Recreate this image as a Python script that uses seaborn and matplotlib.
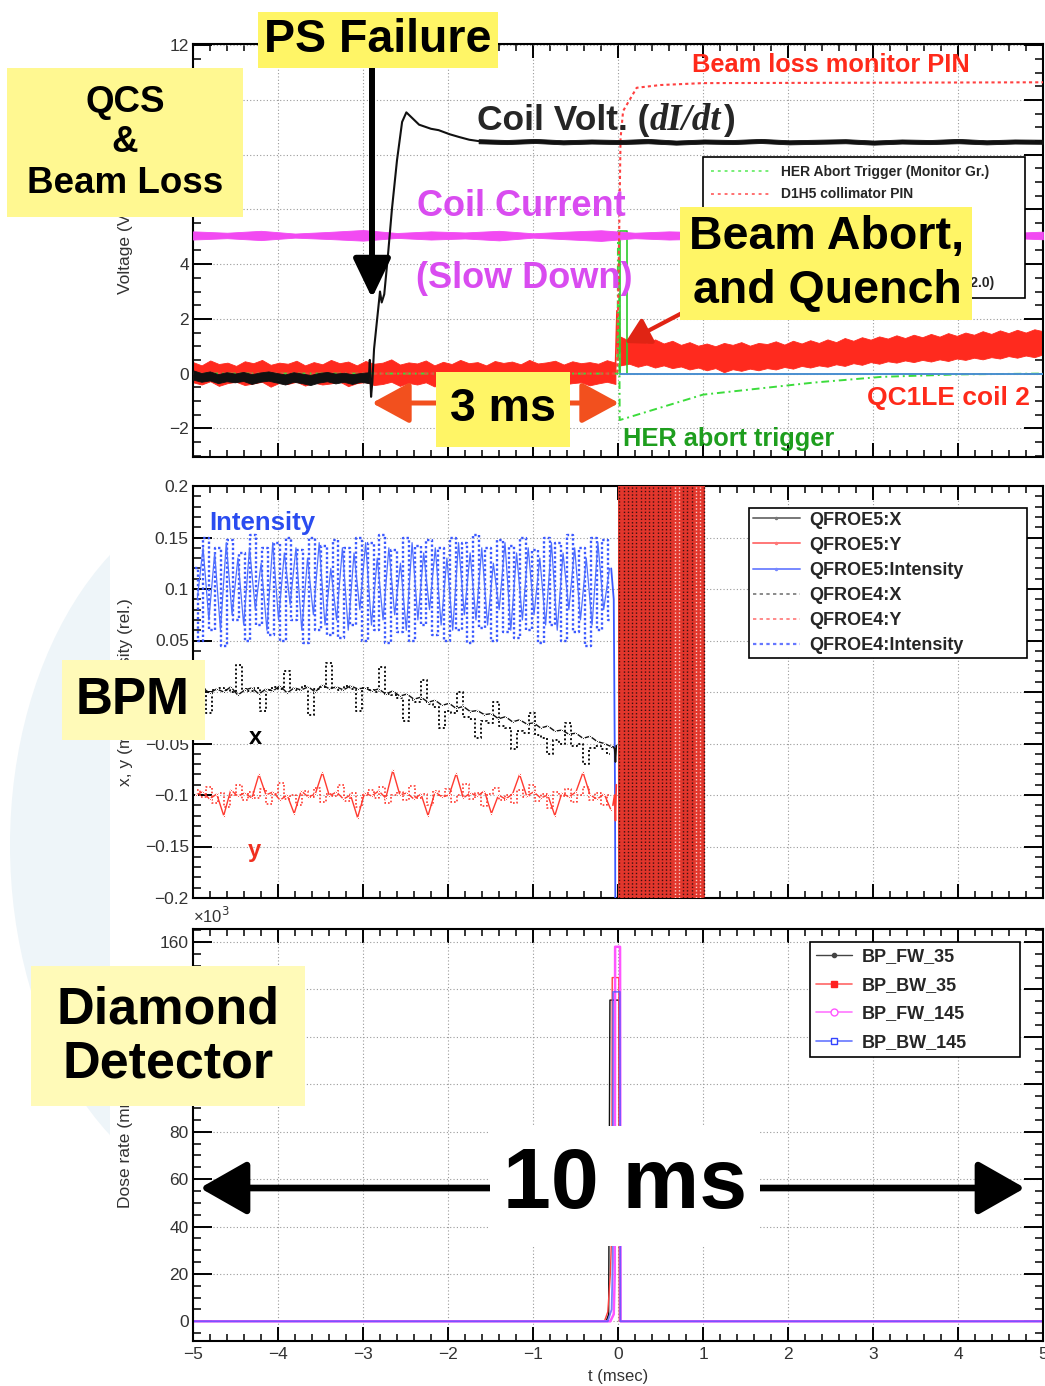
import numpy as np
import matplotlib
matplotlib.use("Agg")
import matplotlib.pyplot as plt
import seaborn as sns
from matplotlib.patches import Rectangle, FancyArrowPatch, Ellipse, ArrowStyle
from matplotlib.lines import Line2D
from matplotlib.ticker import MultipleLocator, FuncFormatter

# ---------------------------------------------------------------- data (t in msec)
# QCS coil voltage (dI/dt), quiet phase: noise envelope
BLK_PRE_HI = [0.12, 0.02, 0.08, -0.02, 0.05, 0.0, 0.06, -0.02, 0.04, 0.08, 0.02,
              -0.03, 0.05, 0.0, -0.05, 0.02, 0.06, 0.0, 0.03, -0.02, 0.02, 0.05]
BLK_PRE_LO = [-0.22, -0.3, -0.25, -0.35, -0.28, -0.32, -0.27, -0.38, -0.3, -0.26, -0.33,
              -0.4, -0.3, -0.35, -0.42, -0.33, -0.28, -0.36, -0.3, -0.38, -0.3, -0.35]
# coil voltage transient after the power-supply failure
BLK_RISE_T = [-2.93, -2.92, -2.905, -2.89, -2.87, -2.84, -2.80, -2.78, -2.75, -2.71, -2.66,
              -2.60, -2.54, -2.49, -2.44, -2.34, -2.2, -2.11, -1.98, -1.87, -1.75, -1.64]
BLK_RISE_V = [-0.1, 0.5, -0.85, -0.3, 0.9, 1.8, 3.0, 2.6, 2.9, 4.2, 6.0,
              7.8, 9.2, 9.55, 9.4, 9.1, 8.95, 8.9, 8.75, 8.65, 8.55, 8.5]
# coil voltage plateau
BLK_POST_HI = [8.57, 8.54, 8.58, 8.53, 8.56, 8.54, 8.58, 8.52, 8.56, 8.54, 8.58,
               8.53, 8.55, 8.57, 8.52, 8.56, 8.54, 8.58, 8.53, 8.56, 8.55]
BLK_POST_LO = [8.42, 8.39, 8.43, 8.38, 8.41, 8.39, 8.42, 8.37, 8.41, 8.39, 8.43,
               8.38, 8.4, 8.42, 8.37, 8.41, 8.39, 8.42, 8.38, 8.41, 8.4]
# coil current monitor
MAG_HI = [5.2, 5.15, 5.22, 5.12, 5.18, 5.25, 5.14, 5.2, 5.16, 5.22, 5.13, 5.19, 5.24,
          5.15, 5.2, 5.17, 5.23, 5.12, 5.18, 5.21, 5.15, 5.2, 5.16, 5.22, 5.14, 5.19]
MAG_LO = [4.9, 4.95, 4.88, 4.97, 4.92, 4.86, 4.96, 4.9, 4.94, 4.87, 4.97, 4.91, 4.85,
          4.95, 4.9, 4.93, 4.87, 4.97, 4.92, 4.89, 4.95, 4.9, 4.94, 4.88, 4.96, 4.91]
# QC1LE coil 2 voltage before / after the abort
RED_PRE_HI = [0.42, 0.3, 0.48, 0.35, 0.4, 0.28, 0.45, 0.38, 0.5, 0.32,
              0.4, 0.36, 0.47, 0.3, 0.42, 0.34, 0.5, 0.38, 0.44, 0.3,
              0.46, 0.36, 0.4, 0.52, 0.33, 0.41, 0.37, 0.48, 0.3, 0.43,
              0.35, 0.5, 0.38, 0.42, 0.3, 0.46, 0.39, 0.44, 0.34, 0.5,
              0.37, 0.41, 0.47, 0.33, 0.45, 0.38, 0.42, 0.36, 0.49, 0.4]
RED_PRE_LO = [-0.32, -0.4, -0.28, -0.45, -0.35, -0.3, -0.42, -0.36, -0.3, -0.48,
              -0.34, -0.38, -0.3, -0.44, -0.33, -0.4, -0.36, -0.29, -0.46, -0.35,
              -0.31, -0.42, -0.38, -0.3, -0.45, -0.34, -0.4, -0.32, -0.47, -0.36,
              -0.3, -0.43, -0.35, -0.39, -0.3, -0.45, -0.33, -0.38, -0.42, -0.31,
              -0.37, -0.44, -0.3, -0.4, -0.35, -0.32, -0.43, -0.36, -0.3, -0.38]
RED_POST_HI = [1.35, 1.2, 1.3, 1.12, 1.25, 1.1, 1.2, 1.05, 1.15, 1.02,
               1.1, 1.0, 1.12, 1.05, 1.15, 1.02, 1.12, 1.08, 1.18, 1.06,
               1.2, 1.1, 1.22, 1.12, 1.25, 1.15, 1.3, 1.2, 1.33, 1.24,
               1.36, 1.28, 1.4, 1.3, 1.42, 1.33, 1.45, 1.35, 1.48, 1.38,
               1.5, 1.42, 1.55, 1.45, 1.58, 1.48, 1.6, 1.5, 1.62, 1.55]
RED_POST_LO = [0.3, 0.36, 0.25, 0.33, 0.22, 0.3, 0.2, 0.26, 0.15, 0.22,
               0.12, 0.2, 0.05, 0.16, 0.1, 0.18, 0.12, 0.2, 0.15, 0.24,
               0.18, 0.28, 0.22, 0.3, 0.25, 0.34, 0.28, 0.38, 0.32, 0.42,
               0.36, 0.45, 0.4, 0.48, 0.42, 0.5, 0.44, 0.52, 0.46, 0.55,
               0.5, 0.58, 0.52, 0.6, 0.55, 0.64, 0.58, 0.66, 0.6, 0.7]
RED_SPIKE_T = [-0.03, -0.012, 0.0, 0.01, 0.03]
RED_SPIKE_V = [0.2, 2.3, 0.5, 1.9, 0.8]
# HER abort trigger (monitor group)
TRIG_T = [-5.0, -0.005, 0.0, 0.01, 0.02, 1.0, 2.3, 3.1, 4.0, 5.0]
TRIG_V = [0.0, 0.0, 5.2, 5.2, -1.7, -0.77, -0.33, -0.12, -0.03, 0.0]
ABORT_FLAG_T = [0.02, 5.0]
ABORT_FLAG_V = [0.0, 0.0]
# D1H5 collimator PIN (beam loss monitor)
PIN_T = [-5.0, -0.01, 0.03, 0.06, 0.22, 0.5, 1.0, 5.0]
PIN_V = [0.0, 0.0, 8.6, 9.6, 10.45, 10.55, 10.62, 10.65]

# BPM: intensity (rel.)
INT5 = [0.09, 0.14, 0.07, 0.135, 0.06, 0.145, 0.075, 0.13, 0.065, 0.14, 0.08, 0.125,
        0.06, 0.145, 0.07, 0.135, 0.085, 0.14, 0.06, 0.13, 0.075, 0.145, 0.065, 0.12,
        0.07, 0.14, 0.06, 0.135, 0.08, 0.145, 0.065, 0.13, 0.07, 0.14, 0.075, 0.125,
        0.06, 0.145, 0.07, 0.135, 0.08, 0.14, 0.065, 0.13, 0.06, 0.145, 0.075, 0.135,
        0.07, 0.14, 0.065, 0.125, 0.08, 0.145, 0.06, 0.135, 0.07, 0.14, 0.075, 0.13,
        0.065, 0.145, 0.06, 0.135, 0.08, 0.14, 0.07, 0.13, 0.065, 0.145, 0.08, 0.12]
INT4 = [0.12, 0.05, 0.15, 0.06, 0.14, 0.045, 0.148, 0.07, 0.135, 0.05, 0.152, 0.065,
        0.14, 0.055, 0.145, 0.05, 0.15, 0.07, 0.138, 0.048, 0.15, 0.06, 0.142, 0.055,
        0.148, 0.052, 0.14, 0.065, 0.15, 0.05, 0.145, 0.06, 0.152, 0.048, 0.138, 0.058,
        0.15, 0.05, 0.142, 0.065, 0.148, 0.055, 0.14, 0.05, 0.15, 0.06, 0.145, 0.048,
        0.152, 0.062, 0.14, 0.05, 0.148, 0.058, 0.142, 0.052, 0.15, 0.06, 0.138, 0.048,
        0.15, 0.065, 0.145, 0.05, 0.152, 0.058, 0.14, 0.045, 0.15, 0.06, 0.148, 0.07]
INT_DROP_T = [-0.08, -0.05, -0.035, -0.03]
INT_DROP_V = [0.12, 0.09, -0.1, -0.25]
# BPM: horizontal position x (mm)
X5 = [0.002, 0.004, -0.001, 0.003, 0.0, 0.005, -0.003, 0.002, 0.004, -0.002, 0.003, 0.001,
      0.006, -0.001, 0.004, 0.002, 0.005, 0.0, 0.007, 0.003, 0.005, 0.002, 0.006, 0.003,
      0.004, 0.001, 0.003, -0.002, 0.001, -0.004, -0.002, -0.007, -0.005, -0.01, -0.008,
      -0.013, -0.011, -0.016, -0.014, -0.019, -0.018, -0.022, -0.021, -0.026, -0.024,
      -0.029, -0.027, -0.031, -0.03, -0.035, -0.033, -0.038, -0.037, -0.041, -0.04,
      -0.045, -0.043, -0.048, -0.05, -0.053]
X4 = [0.001, 0.003, -0.02, 0.002, 0.004, 0.002, 0.0, 0.026, 0.003, 0.001,
      0.004, -0.018, 0.002, 0.005, 0.003, 0.02, 0.004, 0.002, 0.006, -0.022,
      0.003, 0.005, 0.028, 0.004, 0.002, 0.006, 0.003, -0.018, 0.004, 0.002,
      0.0, 0.024, -0.002, -0.003, -0.006, -0.028, -0.008, -0.01, 0.012, -0.012,
      -0.015, -0.035, -0.018, -0.02, 0.0, -0.024, -0.026, -0.045, -0.028, -0.03,
      -0.01, -0.033, -0.035, -0.055, -0.038, -0.04, -0.02, -0.042, -0.045, -0.06,
      -0.047, -0.05, -0.03, -0.052, -0.05, -0.07, -0.054, -0.052, -0.055, -0.06]
X_DROP_T = [-0.06, -0.04, -0.03, -0.02]
X_DROP_V = [-0.053, -0.055, -0.068, -0.052]
# BPM: vertical position y (mm)
Y5 = [-0.1, -0.097, -0.104, -0.099, -0.12, -0.095, -0.101, -0.098, -0.103, -0.08,
      -0.1, -0.097, -0.105, -0.1, -0.118, -0.096, -0.102, -0.099, -0.078, -0.101,
      -0.097, -0.104, -0.1, -0.122, -0.098, -0.101, -0.096, -0.103, -0.076, -0.1,
      -0.098, -0.104, -0.099, -0.12, -0.097, -0.102, -0.1, -0.079, -0.103, -0.098,
      -0.101, -0.096, -0.118, -0.1, -0.104, -0.099, -0.08, -0.101, -0.097, -0.103,
      -0.1, -0.12, -0.098, -0.102, -0.097, -0.078, -0.1, -0.104, -0.099, -0.115]
Y4 = [-0.095, -0.102, -0.092, -0.108, -0.098, -0.112, -0.1, -0.09, -0.105, -0.097,
      -0.103, -0.094, -0.109, -0.099, -0.088, -0.104, -0.1, -0.11, -0.096, -0.102,
      -0.093, -0.107, -0.099, -0.101, -0.09, -0.106, -0.098, -0.112, -0.1, -0.095,
      -0.103, -0.092, -0.108, -0.1, -0.097, -0.105, -0.091, -0.103, -0.099, -0.11,
      -0.096, -0.101, -0.094, -0.107, -0.1, -0.089, -0.104, -0.098, -0.111, -0.099,
      -0.093, -0.105, -0.1, -0.108, -0.095, -0.102, -0.09, -0.106, -0.099, -0.113,
      -0.097, -0.101, -0.094, -0.107, -0.1, -0.092, -0.105, -0.098, -0.11, -0.1]
Y_DROP_T = [-0.06, -0.04, -0.03, -0.02]
Y_DROP_V = [-0.11, -0.1, -0.125, -0.09]
# BPM readings saturate after the abort
ABORT_WINDOW_T = [0.0, 1.02]

# Diamond detectors: dose rate (x10^3 mrad/s)
FW35_T = [-5.0, -0.14, -0.11, -0.095, 0.0, 0.012, 0.02, 5.0]
FW35_V = [0, 0, 3, 135.5, 135.5, 135.5, 0, 0]
BW35_T = [-5.0, -0.16, -0.12, -0.09, -0.072, -0.068, 0.01, 0.016, 5.0]
BW35_V = [0, 0, 4, 20, 40, 145, 145, 0, 0]
FW145_T = [-5.0, -0.09, -0.05, -0.038, -0.034, 0.024, 0.03, 5.0]
FW145_V = [0, 0, 3, 20, 158, 158, 0, 0]
BW145_T = [-5.0, -0.12, -0.075, -0.062, -0.058, 0.022, 0.028, 5.0]
BW145_V = [0, 0, 5, 25, 139, 139, 0, 0]

# ---------------------------------------------------------------- figure
sns.set_theme(style="white")
plt.rcParams["font.family"] = ["Liberation Sans", "DejaVu Sans"]
plt.rcParams["axes.unicode_minus"] = True

W, H = 1045, 1386
fig = plt.figure(figsize=(W / 100, H / 100), dpi=100)
fig.patch.set_facecolor("white")


def rect(top, bottom, left=193, right=1043):
    return [left / W, 1 - bottom / H, (right - left) / W, (bottom - top) / H]


def fx(x):
    return x / W


def fy(y):
    return 1 - y / H


# faint slide backdrop on the left edge
clip = Rectangle((0, 0), 110 / W, 1, transform=fig.transFigure)
backdrop = Ellipse((fx(255), fy(845)), 490 / W, 720 / H, transform=fig.transFigure,
                   facecolor="#eef5f9", edgecolor="none", zorder=-2)
backdrop.set_clip_path(clip)
fig.add_artist(backdrop)

ax1 = fig.add_axes(rect(44, 457))
ax2 = fig.add_axes(rect(486, 898))
ax3 = fig.add_axes(rect(929, 1341))

fmt = FuncFormatter(lambda v, p: ("%g" % round(v, 6)).replace("-", "\u2212"))


def style(ax, ymaj, ymin, ylim):
    ax.set_xlim(-5, 5)
    ax.set_ylim(*ylim)
    ax.set_facecolor("white")
    ax.xaxis.set_major_locator(MultipleLocator(1))
    ax.xaxis.set_minor_locator(MultipleLocator(0.2))
    ax.yaxis.set_major_locator(MultipleLocator(ymaj))
    ax.yaxis.set_minor_locator(MultipleLocator(ymin))
    ax.xaxis.set_major_formatter(fmt)
    ax.yaxis.set_major_formatter(fmt)
    ax.tick_params(which="both", direction="in", top=True, right=True,
                   bottom=True, left=True, color="black", labelcolor="#333333",
                   labelsize=12.5)
    ax.tick_params(axis="y", which="major", length=14, width=1.4, pad=3)
    ax.tick_params(axis="y", which="minor", length=6, width=1.1)
    ax.tick_params(axis="x", which="major", length=10, width=1.4, pad=4)
    ax.tick_params(axis="x", which="minor", length=5, width=1.1)
    for s in ax.spines.values():
        s.set_color("black")
        s.set_linewidth(1.5)
        s.set_visible(True)
    ax.grid(True, which="major", color="#9a9a9a", linestyle=(0, (1, 2)), linewidth=0.8)
    ax.set_axisbelow(True)


def band(ax, t, lo, hi, color, z, lw=0.6):
    # noisy trace drawn as its envelope
    ax.fill_between(np.asarray(t, float), lo, hi, facecolor=color, edgecolor=color,
                    lw=lw, zorder=z)


def framed_legend(ax, handles, labels, x0, y0, x1, y1, top, bottom, size, **kw):
    # legend box spanning the given pixel rectangle (left/right edges fixed)
    ax_h = bottom - top
    anchor = ((x0 - 193) / 850, 1 - (y1 - top) / ax_h, (x1 - x0) / 850, (y1 - y0) / ax_h)
    leg = ax.legend(handles, labels, loc="upper left", bbox_to_anchor=anchor, mode="expand",
                    borderaxespad=0, frameon=True, fancybox=False, framealpha=1,
                    prop={"weight": "bold", "size": size}, **kw)
    leg.get_frame().set_edgecolor("black")
    leg.get_frame().set_linewidth(1.2)
    leg.set_zorder(6)
    return leg


# ---------------- top panel: QCS and beam loss
style(ax1, 2, 0.5, (-3.05, 12.05))
ax1.tick_params(labelbottom=False)
RED = "#ff2a1e"
band(ax1, np.linspace(-5, -0.03, len(RED_PRE_HI)), RED_PRE_LO, RED_PRE_HI, RED, 2)
band(ax1, np.linspace(0.03, 5, len(RED_POST_HI)), RED_POST_LO, RED_POST_HI, RED, 2)
ax1.plot(RED_SPIKE_T, RED_SPIKE_V, color=RED, lw=1.2, zorder=2)
sns.lineplot(x=TRIG_T, y=TRIG_V, ax=ax1, color="#3cdc3c", lw=1.4,
             linestyle=(0, (4, 2, 1, 2)), sort=False, estimator=None, zorder=3)
ax1.plot([0.02, 0.02, 0.1, 0.1], [0, 5.2, 5.2, 0], color="#2ccc2c", lw=1.2, zorder=3)
ax1.plot(ABORT_FLAG_T, ABORT_FLAG_V, color="#4a8fd0", lw=1.4, zorder=3)
band(ax1, np.linspace(-5, 5, len(MAG_HI)), MAG_LO, MAG_HI, "#f24af2", 3)
band(ax1, np.linspace(-5, -2.93, len(BLK_PRE_HI)), BLK_PRE_LO, BLK_PRE_HI, "#111111", 4)
sns.lineplot(x=BLK_RISE_T, y=BLK_RISE_V, ax=ax1, color="#111111", lw=1.5,
             sort=False, estimator=None, zorder=4)
band(ax1, np.linspace(-1.64, 5, len(BLK_POST_HI)), BLK_POST_LO, BLK_POST_HI, "#111111", 4)
ax1.plot(PIN_T, PIN_V, color="#ff4040", lw=1.5, linestyle=(0, (1.5, 1.5)), zorder=3)
ax1.set_ylabel("Voltage (V)", fontsize=12.5, color="#333333")
ax1.yaxis.set_label_coords(-0.0706, 0.5)

top_handles = [
    Line2D([], [], color="#77ee77", lw=1.4, linestyle=(0, (1.5, 2))),
    Line2D([], [], color="#ff7070", lw=1.4, linestyle=(0, (1.5, 2))),
    Line2D([], [], color="#ff7070", lw=1.4),
    Line2D([], [], color="#f070f0", lw=1.4),
    Line2D([], [], color="#555555", lw=1.4),
    Line2D([], [], color="#555555", lw=1.4, linestyle=(0, (1.5, 2))),
]
top_labels = ["HER Abort Trigger (Monitor Gr.)", "D1H5 collimator PIN",
              "QC1LE coil 2 Voltage", "QCS Coil Current",
              "QCS Coil Voltage", "QC1LE Coil 2 Voltage (Scale 2.0)"]
framed_legend(ax1, top_handles, top_labels, 703, 157, 1025, 308, 44, 457, 10,
              labelspacing=0.58, handlelength=4.2, handletextpad=0.85, borderpad=0.6)

# ---------------- middle panel: BPM
style(ax2, 0.05, 0.01, (-0.2, 0.2))
ax2.tick_params(labelbottom=False)
BLUE = "#3a58ff"
t_i4 = np.linspace(-4.98, -0.08, len(INT4))
t_i5 = np.linspace(-4.95, -0.1, len(INT5))
ax2.plot(t_i4, INT4, color=BLUE, lw=1.7, linestyle=(0, (1, 1)),
         drawstyle="steps-mid", zorder=3)
sns.lineplot(x=t_i5, y=INT5, ax=ax2, color="#5070ff", lw=0.9,
             sort=False, estimator=None, zorder=3)
ax2.plot(INT_DROP_T, INT_DROP_V, color=BLUE, lw=1.3, zorder=3)
t_x5 = np.linspace(-4.97, -0.08, len(X5))
t_x4 = np.linspace(-4.95, -0.1, len(X4))
ax2.plot(t_x4, X4, color="#111111", lw=1.4, linestyle=(0, (1, 1.2)),
         drawstyle="steps-mid", zorder=3)
sns.lineplot(x=t_x5, y=X5, ax=ax2, color="#111111", lw=1.0, marker=".", ms=3,
             sort=False, estimator=None, zorder=3)
ax2.plot(X_DROP_T, X_DROP_V, color="#111111", lw=1.2, zorder=3)
t_y5 = np.linspace(-4.97, -0.08, len(Y5))
t_y4 = np.linspace(-4.95, -0.1, len(Y4))
ax2.plot(t_y4, Y4, color="#ff3a30", lw=1.2, linestyle=(0, (1, 1.2)),
         drawstyle="steps-mid", zorder=3)
sns.lineplot(x=t_y5, y=Y5, ax=ax2, color="#ff3a30", lw=1.0, marker=".", ms=3,
             sort=False, estimator=None, zorder=3)
ax2.plot(Y_DROP_T, Y_DROP_V, color="#ff3a30", lw=1.2, zorder=3)
ax2.fill_between(ABORT_WINDOW_T, -0.2, 0.2, color="#e2362c", lw=0, zorder=4)
for tv in np.arange(0.015, ABORT_WINDOW_T[1], 0.05):
    col = "#fbd0cc" if 0.62 < tv < 0.72 or 0.88 < tv < 0.98 else "#3a1010"
    ax2.vlines(tv, -0.2, 0.2, colors=col, lw=1.0, linestyles=(0, (1, 1.5)), zorder=4)
ax2.set_ylabel("x, y (mm), Intensity (rel.)", fontsize=12.5, color="#333333")
ax2.yaxis.set_label_coords(-0.0706, 0.5)

mid_handles = [
    Line2D([], [], color="#777777", lw=1.4, marker=".", ms=3),
    Line2D([], [], color="#ff7777", lw=1.4, marker=".", ms=3),
    Line2D([], [], color="#7788ff", lw=1.4, marker=".", ms=3),
    Line2D([], [], color="#777777", lw=1.2, linestyle=(0, (2, 2))),
    Line2D([], [], color="#ff7777", lw=1.2, linestyle=(0, (2, 2))),
    Line2D([], [], color="#6677ff", lw=1.6, linestyle=(0, (1.5, 1.5))),
]
mid_labels = ["QFROE5:X", "QFROE5:Y", "QFROE5:Intensity",
              "QFROE4:X", "QFROE4:Y", "QFROE4:Intensity"]
framed_legend(ax2, mid_handles, mid_labels, 749, 508, 1027, 657, 486, 898, 13,
              labelspacing=0.45, handlelength=2.6, handletextpad=0.55, borderpad=0.2)

# ---------------- bottom panel: diamond detectors
style(ax3, 20, 5, (-8.3, 165.5))
sns.lineplot(x=FW35_T, y=FW35_V, ax=ax3, color="#111111", lw=1.0, sort=False, estimator=None)
sns.lineplot(x=BW35_T, y=BW35_V, ax=ax3, color="#ff4040", lw=1.0, sort=False, estimator=None)
sns.lineplot(x=FW145_T, y=FW145_V, ax=ax3, color="#ff55ff", lw=1.8, sort=False, estimator=None)
sns.lineplot(x=BW145_T, y=BW145_V, ax=ax3, color="#4a55ff", lw=1.3, alpha=0.75,
             sort=False, estimator=None)
ax3.set_ylabel("Dose rate (mrad/s)", fontsize=12.5, color="#333333")
ax3.yaxis.set_label_coords(-0.0706, 0.5)
ax3.set_xlabel("t (msec)", fontsize=12, color="#333333")
ax3.xaxis.set_label_coords(0.5, -0.068)
ax3.text(0.0, 1.008, "\u00d710$^{3}$", transform=ax3.transAxes, fontsize=12,
         color="#333333", ha="left", va="bottom")

bot_handles = [
    Line2D([], [], color="#444444", lw=1.0, marker="o", ms=3),
    Line2D([], [], color="#ff6666", lw=1.2, marker="s", ms=4, mfc="#ff2020", mec="#ff2020"),
    Line2D([], [], color="#ff77ff", lw=1.2, marker="o", ms=5, mfc="white", mec="#ff55ff"),
    Line2D([], [], color="#6677ff", lw=1.2, marker="s", ms=5, mfc="white", mec="#3344ff"),
]
bot_labels = ["BP_FW_35", "BP_BW_35", "BP_FW_145", "BP_BW_145"]
framed_legend(ax3, bot_handles, bot_labels, 810, 942, 1020, 1056, 929, 1341, 13,
              labelspacing=0.64, handlelength=2.0, handletextpad=0.5, borderpad=0.35)


# ---------------------------------------------------------------- annotations
def box(x0, y0, x1, y1, color, z=7):
    fig.add_artist(Rectangle((fx(x0), fy(y1)), (x1 - x0) / W, (y1 - y0) / H,
                             transform=fig.transFigure, facecolor=color,
                             edgecolor="none", zorder=z))


def label(x, y, s, size, color="black", weight="bold", z=8, **kw):
    return fig.text(fx(x), fy(y), s, ha="center", va="center", fontsize=size,
                    color=color, weight=weight, zorder=z, **kw)


def arrow(p0, p1, color, lw, hl, hw, style="-|>", z=6):
    st = ArrowStyle(style, head_length=hl, head_width=hw)
    fig.add_artist(FancyArrowPatch((fx(p0[0]), fy(p0[1])), (fx(p1[0]), fy(p1[1])),
                                   transform=fig.transFigure, arrowstyle=st,
                                   mutation_scale=1, color=color, lw=lw,
                                   shrinkA=0, shrinkB=0, zorder=z))


BRIGHT = "#fff566"
PALE = "#fff891"
PALEST = "#fffab8"

# power-supply failure
arrow((372, 68), (372, 298), "black", 4.3, 24, 11.5)
box(258, 12, 498, 68, BRIGHT)
label(378, 40, "PS Failure", 33.5)

box(7, 68, 243, 217, PALE)
label(125, 143, "QCS\n&\nBeam Loss", 26.5, linespacing=1.22)

# coil voltage title with italic dI/dt
fig.canvas.draw()
r = fig.canvas.get_renderer()
t1 = fig.text(fx(477), fy(130), "Coil Volt. (", fontsize=25.5, weight="bold",
              ha="left", va="baseline", zorder=8)
x_next = t1.get_window_extent(r).x1
t2 = fig.text(x_next / W, fy(130), "dI/dt", fontsize=26.5, weight="bold", style="italic",
              family=["Liberation Serif", "DejaVu Serif"], ha="left", va="baseline", zorder=8)
x_next = t2.get_window_extent(r).x1
fig.text(x_next / W + 0.003, fy(130), ")", fontsize=25.5, weight="bold",
         ha="left", va="baseline", zorder=8)

label(521, 207, "Coil Current", 26, color="#d94cf0")
label(524, 279, "(Slow Down)", 26, color="#d94cf0")
label(831, 65, "Beam loss monitor PIN", 18.3, color="#ff2a1a")
label(948, 398, "QC1LE coil 2", 19, color="#ff2a1a")
label(729, 439, "HER abort trigger", 18.3, color="#1e9e1e")

# beam abort and quench
arrow((684, 312), (625, 343), "#e02414", 3.0, 15, 8.5)
box(680, 207, 972, 320, BRIGHT)
label(827, 264, "Beam Abort,\nand Quench", 33.5, linespacing=1.27)

# 3 ms interval
arrow((372, 403), (619, 403), "#f2501e", 3.6, 23, 12.5, style="<|-|>")
box(436, 372, 570, 447, BRIGHT)
label(503, 409, "3 ms", 33.5)

# BPM and diamond detector captions
box(62, 660, 205, 740, PALEST)
label(133, 700, "BPM", 37)
label(262, 523, "Intensity", 18.5, color="#2a4cf0")
label(255, 738, "x", 17)
label(254, 851, "y", 17, color="#f03020")

box(31, 966, 305, 1106, PALEST)
label(168, 1037, "Diamond\nDetector", 37.5, linespacing=1.12)

# 10 ms window
arrow((200, 1188), (1025, 1188), "black", 4.8, 29, 16.5, style="<|-|>")
box(490, 1126, 760, 1246, "white")
label(625, 1186, "10 ms", 62)

fig.savefig("out.png", dpi=100, facecolor="white")
